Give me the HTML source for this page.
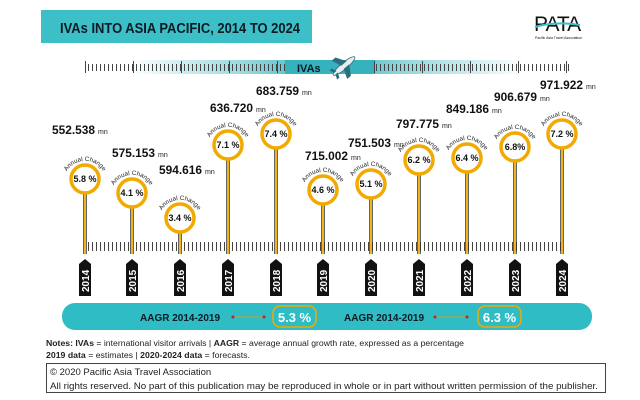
<!DOCTYPE html>
<html><head><meta charset="utf-8"><style>
body{margin:0;background:#fff;}
svg{display:block;font-family:"Liberation Sans",sans-serif;}
.v{font-weight:bold;font-size:12px;fill:#111;}
.mn{font-size:7px;fill:#222;}
.pc{font-weight:bold;font-size:9px;fill:#111;text-anchor:middle;}
.ac{font-size:6.3px;fill:#222;}
.yr{font-weight:bold;font-size:10px;fill:#fff;}
</style></head><body>
<svg width="640" height="400" viewBox="0 0 640 400" xmlns="http://www.w3.org/2000/svg">
<defs>
<pattern id="tk" width="4" height="10" patternUnits="userSpaceOnUse"><rect x="0" y="0" width="1" height="10" fill="#444"/></pattern>
<linearGradient id="band" x1="0" x2="1"><stop offset="0" stop-color="#3ab7c0" stop-opacity="0"/><stop offset="0.3" stop-color="#3ab7c0" stop-opacity="0.55"/><stop offset="0.5" stop-color="#35b2bc"/><stop offset="0.7" stop-color="#3ab7c0" stop-opacity="0.55"/><stop offset="1" stop-color="#3ab7c0" stop-opacity="0"/></linearGradient>
</defs>
<!-- title -->
<rect x="41" y="10" width="271" height="33" fill="#3cbfc6"/>
<text x="60" y="33" font-size="14.5" font-weight="bold" fill="#0d1a24" textLength="240" lengthAdjust="spacingAndGlyphs">IVAs INTO ASIA PACIFIC, 2014 TO 2024</text>
<!-- logo -->
<text x="534" y="31" font-size="21" fill="#111" letter-spacing="-1">PATA</text>
<path d="M535 27 Q556 21 580 25" stroke="#3cbfc6" stroke-width="2" fill="none"/>
<text x="535" y="39" font-size="3.5" fill="#111">Pacific Asia Travel Association</text>
<!-- top ruler -->
<rect x="130" y="60" width="395" height="14" fill="url(#band)"/>
<rect x="86" y="64" width="484" height="7" fill="url(#tk)"/>
<rect x="285" y="60" width="90" height="14" fill="#35b2bc"/>
<g fill="#444"><rect x="85" y="61" width="1" height="12"/><rect x="133" y="61" width="1" height="12"/><rect x="181" y="61" width="1" height="12"/><rect x="229" y="61" width="1" height="12"/><rect x="277" y="61" width="1" height="12"/><rect x="374" y="61" width="1" height="12"/><rect x="422" y="61" width="1" height="12"/><rect x="470" y="61" width="1" height="12"/><rect x="518" y="61" width="1" height="12"/><rect x="566" y="61" width="1" height="12"/></g>
<text x="297" y="72" font-size="11" font-weight="bold" fill="#0d1a24">IVAs</text>
<g transform="translate(344,66) rotate(-40)"><ellipse cx="0" cy="0" rx="14" ry="3.2" fill="#e8eef0" stroke="#2b6e7e" stroke-width="0.8"/><path d="M-2 -2 L-6 -12 L-1 -12 L5 -2 Z M-2 2 L-6 12 L-1 12 L5 2 Z" fill="#2b6e7e"/><path d="M-12 -1 L-14 -6 L-11 -6 L-9 -1Z M-12 1 L-14 6 L-11 6 L-9 1Z" fill="#2b6e7e"/></g>
<!-- bottom ruler -->
<rect x="86" y="242" width="478" height="9" fill="url(#tk)"/>
<!-- poles -->
<g stroke="#333" stroke-width="3.5">
<line x1="85" y1="193" x2="85" y2="254"/><line x1="132" y1="207" x2="132" y2="254"/><line x1="180" y1="232" x2="180" y2="254"/><line x1="228" y1="159" x2="228" y2="254"/><line x1="276" y1="148" x2="276" y2="254"/><line x1="323" y1="204" x2="323" y2="254"/><line x1="371" y1="198" x2="371" y2="254"/><line x1="419" y1="174" x2="419" y2="254"/><line x1="467" y1="172" x2="467" y2="254"/><line x1="515" y1="161" x2="515" y2="254"/><line x1="562" y1="148" x2="562" y2="254"/>
</g>
<g stroke="#f2b21b" stroke-width="2">
<line x1="85" y1="193" x2="85" y2="254"/><line x1="132" y1="207" x2="132" y2="254"/><line x1="180" y1="232" x2="180" y2="254"/><line x1="228" y1="159" x2="228" y2="254"/><line x1="276" y1="148" x2="276" y2="254"/><line x1="323" y1="204" x2="323" y2="254"/><line x1="371" y1="198" x2="371" y2="254"/><line x1="419" y1="174" x2="419" y2="254"/><line x1="467" y1="172" x2="467" y2="254"/><line x1="515" y1="161" x2="515" y2="254"/><line x1="562" y1="148" x2="562" y2="254"/>
</g>
<!-- circles -->
<g fill="#fff" stroke="#f2a900" stroke-width="3.5">
<circle cx="85" cy="179" r="14"/><circle cx="132" cy="193" r="14"/><circle cx="180" cy="218" r="14"/><circle cx="228" cy="145" r="14"/><circle cx="276" cy="134" r="14"/><circle cx="323" cy="190" r="14"/><circle cx="371" cy="184" r="14"/><circle cx="419" cy="160" r="14"/><circle cx="467" cy="158" r="14"/><circle cx="515" cy="147" r="14"/><circle cx="562" cy="134" r="14"/>
</g>
<g>
<text class="pc" x="85" y="182">5.8 %</text><text class="pc" x="132" y="196">4.1 %</text><text class="pc" x="180" y="221">3.4 %</text><text class="pc" x="228" y="148">7.1 %</text><text class="pc" x="276" y="137">7.4 %</text><text class="pc" x="323" y="193">4.6 %</text><text class="pc" x="371" y="187">5.1 %</text><text class="pc" x="419" y="163">6.2 %</text><text class="pc" x="467" y="161">6.4 %</text><text class="pc" x="515" y="150">6.8%</text><text class="pc" x="562" y="137">7.2 %</text>
</g>
<defs>
<path id="a0" d="M66 173 A21 21 0 0 1 104 173"/><path id="a1" d="M113 187 A21 21 0 0 1 151 187"/><path id="a2" d="M161 212 A21 21 0 0 1 199 212"/><path id="a3" d="M209 139 A21 21 0 0 1 247 139"/><path id="a4" d="M257 128 A21 21 0 0 1 295 128"/><path id="a5" d="M304 184 A21 21 0 0 1 342 184"/><path id="a6" d="M352 178 A21 21 0 0 1 390 178"/><path id="a7" d="M400 154 A21 21 0 0 1 438 154"/><path id="a8" d="M448 152 A21 21 0 0 1 486 152"/><path id="a9" d="M496 141 A21 21 0 0 1 534 141"/><path id="a10" d="M543 128 A21 21 0 0 1 581 128"/>
</defs>
<g class="ac" text-anchor="middle">
<text><textPath href="#a0" startOffset="50%">Annual Change</textPath></text><text><textPath href="#a1" startOffset="50%">Annual Change</textPath></text><text><textPath href="#a2" startOffset="50%">Annual Change</textPath></text><text><textPath href="#a3" startOffset="50%">Annual Change</textPath></text><text><textPath href="#a4" startOffset="50%">Annual Change</textPath></text><text><textPath href="#a5" startOffset="50%">Annual Change</textPath></text><text><textPath href="#a6" startOffset="50%">Annual Change</textPath></text><text><textPath href="#a7" startOffset="50%">Annual Change</textPath></text><text><textPath href="#a8" startOffset="50%">Annual Change</textPath></text><text><textPath href="#a9" startOffset="50%">Annual Change</textPath></text><text><textPath href="#a10" startOffset="50%">Annual Change</textPath></text>
</g>
<!-- values -->
<g class="v">
<text x="52" y="134" textLength="43" lengthAdjust="spacingAndGlyphs">552.538</text>
<text x="112" y="157" textLength="43" lengthAdjust="spacingAndGlyphs">575.153</text>
<text x="159" y="174" textLength="43" lengthAdjust="spacingAndGlyphs">594.616</text>
<text x="210" y="112" textLength="43" lengthAdjust="spacingAndGlyphs">636.720</text>
<text x="256" y="95" textLength="43" lengthAdjust="spacingAndGlyphs">683.759</text>
<text x="305" y="160" textLength="43" lengthAdjust="spacingAndGlyphs">715.002</text>
<text x="348" y="147" textLength="43" lengthAdjust="spacingAndGlyphs">751.503</text>
<text x="396" y="128" textLength="43" lengthAdjust="spacingAndGlyphs">797.775</text>
<text x="446" y="113" textLength="43" lengthAdjust="spacingAndGlyphs">849.186</text>
<text x="494" y="101" textLength="43" lengthAdjust="spacingAndGlyphs">906.679</text>
<text x="540" y="89" textLength="43" lengthAdjust="spacingAndGlyphs">971.922</text>
</g>
<g class="mn">
<text x="98" y="134">mn</text><text x="158" y="157">mn</text><text x="205" y="174">mn</text><text x="256" y="112">mn</text><text x="302" y="95">mn</text><text x="351" y="160">mn</text><text x="394" y="147">mn</text><text x="442" y="128">mn</text><text x="492" y="113">mn</text><text x="540" y="101">mn</text><text x="586" y="89">mn</text>
</g>
<!-- year boxes -->
<g fill="#111">
<path d="M79 264 L85 259 L91 264 V296 H79Z"/><path d="M126 264 L132 259 L138 264 V296 H126Z"/><path d="M174 264 L180 259 L186 264 V296 H174Z"/><path d="M222 264 L228 259 L234 264 V296 H222Z"/><path d="M270 264 L276 259 L282 264 V296 H270Z"/><path d="M317 264 L323 259 L329 264 V296 H317Z"/><path d="M365 264 L371 259 L377 264 V296 H365Z"/><path d="M413 264 L419 259 L425 264 V296 H413Z"/><path d="M461 264 L467 259 L473 264 V296 H461Z"/><path d="M509 264 L515 259 L521 264 V296 H509Z"/><path d="M556 264 L562 259 L568 264 V296 H556Z"/>
</g>
<g class="yr">
<text transform="translate(89,292) rotate(-90)">2014</text><text transform="translate(136,292) rotate(-90)">2015</text><text transform="translate(184,292) rotate(-90)">2016</text><text transform="translate(232,292) rotate(-90)">2017</text><text transform="translate(280,292) rotate(-90)">2018</text><text transform="translate(327,292) rotate(-90)">2019</text><text transform="translate(375,292) rotate(-90)">2020</text><text transform="translate(423,292) rotate(-90)">2021</text><text transform="translate(471,292) rotate(-90)">2022</text><text transform="translate(519,292) rotate(-90)">2023</text><text transform="translate(566,292) rotate(-90)">2024</text>
</g>
<!-- AAGR bar -->
<rect x="62" y="303" width="530" height="27" rx="13" fill="#2fbcc5"/>
<text x="140" y="321" font-size="10" font-weight="bold" fill="#0d1a24">AAGR 2014-2019</text>
<line x1="233" y1="317" x2="264" y2="317" stroke="#c9a227" stroke-width="1"/><circle cx="233" cy="317" r="1.5" fill="#c0202a"/><circle cx="264" cy="317" r="1.5" fill="#c0202a"/>
<rect x="273" y="306" width="43" height="21" rx="7" fill="none" stroke="#f2a900" stroke-width="1.5"/>
<text x="294.5" y="322" font-size="13" font-weight="bold" fill="#fff" text-anchor="middle">5.3 %</text>
<text x="344" y="321" font-size="10" font-weight="bold" fill="#0d1a24">AAGR 2014-2019</text>
<line x1="435" y1="317" x2="467" y2="317" stroke="#c9a227" stroke-width="1"/><circle cx="435" cy="317" r="1.5" fill="#c0202a"/><circle cx="467" cy="317" r="1.5" fill="#c0202a"/>
<rect x="478" y="306" width="43" height="21" rx="7" fill="none" stroke="#f2a900" stroke-width="1.5"/>
<text x="499.5" y="322" font-size="13" font-weight="bold" fill="#fff" text-anchor="middle">6.3 %</text>
<!-- notes -->
<text x="46" y="346" font-size="8.6" fill="#222" textLength="418" lengthAdjust="spacingAndGlyphs"><tspan font-weight="bold">Notes: IVAs</tspan> = international visitor arrivals | <tspan font-weight="bold">AAGR</tspan> = average annual growth rate, expressed as a percentage</text>
<text x="46" y="358" font-size="8.6" fill="#222" textLength="204" lengthAdjust="spacingAndGlyphs"><tspan font-weight="bold">2019 data</tspan> = estimates | <tspan font-weight="bold">2020-2024 data</tspan> = forecasts.</text>
<rect x="46.5" y="363.5" width="559" height="29" fill="#fff" stroke="#444" stroke-width="1"/>
<text x="50" y="375" font-size="9.5" fill="#222">© 2020 Pacific Asia Travel Association</text>
<text x="50" y="389" font-size="9.5" fill="#222" textLength="548" lengthAdjust="spacingAndGlyphs">All rights reserved. No part of this publication may be reproduced in whole or in part without written permission of the publisher.</text>
</svg>
</body></html>
